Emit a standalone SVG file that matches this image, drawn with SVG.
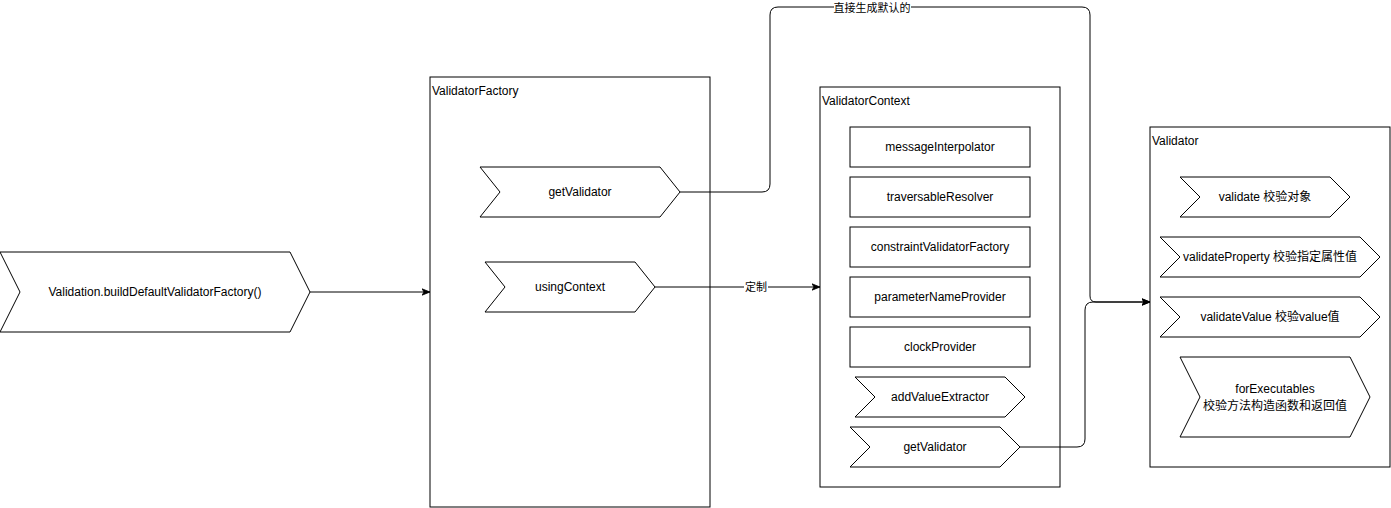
<svg xmlns="http://www.w3.org/2000/svg" width="1391" height="508" viewBox="0 0 1391 508">
<style>
.shape{fill:#fff;stroke:#000;stroke-width:1}
.t{font-family:"Liberation Sans","Noto Sans CJK SC",sans-serif;font-size:12px;fill:#000}
.lbl{font-size:11px}
.c{text-anchor:middle;dominant-baseline:central}
.edge{fill:none;stroke:#000;stroke-width:1}
</style>
<defs>
<marker id="arr" viewBox="0 0 10 10" refX="10" refY="5" markerWidth="8" markerHeight="8" markerUnits="userSpaceOnUse" orient="auto">
<path d="M0,1 L10,5 L0,9 L2.5,5 Z" fill="#000" stroke="#000" stroke-width="1"/>
</marker>
</defs>
<rect width="1391" height="508" fill="#fff"/>

<g id="validation">
<polygon class="shape" points="0,252 290,252 310,292 290,332 0,332 20,292"/>
<text class="t c" x="155" y="292">Validation.buildDefaultValidatorFactory()</text>
</g>

<g id="validatorFactory">
<rect class="shape" x="430" y="77" width="280" height="430"/>
<text class="t" x="432" y="95">ValidatorFactory</text>
</g>
<g id="vf-getValidator">
<polygon class="shape" points="480,167 660,167 680,192 660,217 480,217 500,192"/>
<text class="t c" x="580" y="192">getValidator</text>
</g>
<g id="vf-usingContext">
<polygon class="shape" points="485,262 635,262 655,287 635,312 485,312 505,287"/>
<text class="t c" x="570" y="287">usingContext</text>
</g>

<g id="validatorContext">
<rect class="shape" x="820" y="87" width="240" height="400"/>
<text class="t" x="822" y="105">ValidatorContext</text>
</g>
<g id="messageInterpolator">
<rect class="shape" x="850" y="127" width="180" height="40"/>
<text class="t c" x="940" y="147">messageInterpolator</text>
</g>
<g id="traversableResolver">
<rect class="shape" x="850" y="177" width="180" height="40"/>
<text class="t c" x="940" y="197">traversableResolver</text>
</g>
<g id="constraintValidatorFactory">
<rect class="shape" x="850" y="227" width="180" height="40"/>
<text class="t c" x="940" y="247">constraintValidatorFactory</text>
</g>
<g id="parameterNameProvider">
<rect class="shape" x="850" y="277" width="180" height="40"/>
<text class="t c" x="940" y="297">parameterNameProvider</text>
</g>
<g id="clockProvider">
<rect class="shape" x="850" y="327" width="180" height="40"/>
<text class="t c" x="940" y="347">clockProvider</text>
</g>
<g id="addValueExtractor">
<polygon class="shape" points="855,377 1005,377 1025,397 1005,417 855,417 875,397"/>
<text class="t c" x="940" y="397">addValueExtractor</text>
</g>
<g id="vc-getValidator">
<polygon class="shape" points="850,427 1000,427 1020,447 1000,467 850,467 870,447"/>
<text class="t c" x="935" y="447">getValidator</text>
</g>

<g id="validator">
<rect class="shape" x="1150" y="127" width="240" height="340"/>
<text class="t" x="1152" y="145">Validator</text>
</g>
<g id="validate">
<polygon class="shape" points="1180,177 1330,177 1350,197 1330,217 1180,217 1200,197"/>
<text class="t c" x="1265" y="197">validate 校验对象</text>
</g>
<g id="validateProperty">
<polygon class="shape" points="1160,237 1360,237 1380,257 1360,277 1160,277 1180,257"/>
<text class="t c" x="1270" y="257">validateProperty 校验指定属性值</text>
</g>
<g id="validateValue">
<polygon class="shape" points="1160,297 1360,297 1380,317 1360,337 1160,337 1180,317"/>
<text class="t c" x="1270" y="317">validateValue 校验value值</text>
</g>
<g id="forExecutables">
<polygon class="shape" points="1180,357 1350,357 1370,397 1350,437 1180,437 1200,397"/>
<text class="t c" x="1275" y="389">forExecutables</text>
<text class="t c" x="1275" y="406">校验方法构造函数和返回值</text>
</g>

<g id="connectors">
<path class="edge" d="M310,292 L430,292" marker-end="url(#arr)"/>
<path class="edge" d="M655,287 L820,287" marker-end="url(#arr)"/>
<rect x="744" y="280" width="24" height="14" fill="#fff"/>
<text class="t lbl c" x="756" y="287">定制</text>
<path class="edge" d="M680,192 L762,192 Q770,192 770,184 L770,15 Q770,7 778,7 L1082,7 Q1090,7 1090,15 L1090,296 Q1090,302 1096,302 L1150,302" marker-end="url(#arr)"/>
<rect x="834" y="0" width="77" height="14" fill="#fff"/>
<text class="t lbl c" x="872" y="8">直接生成默认的</text>
<path class="edge" d="M1020,447 L1077,447 Q1085,447 1085,439 L1085,310 Q1085,302 1093,302 L1150,302" marker-end="url(#arr)"/>
</g>
</svg>
